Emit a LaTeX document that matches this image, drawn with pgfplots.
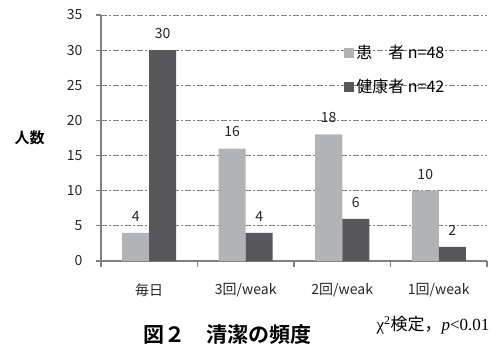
\documentclass[border=0pt]{standalone}
\usepackage{fontspec}
\usepackage{pgfplots}
\pgfplotsset{compat=1.18}
\setmainfont{Noto Sans CJK JP}[BoldFont={Noto Sans CJK JP Bold}]
\newfontfamily\serifnum{Liberation Serif}
\definecolor{lightbar}{RGB}{178,179,181}
\definecolor{darkbar}{RGB}{88,88,90}
\definecolor{axgray}{RGB}{128,128,128}
\begin{document}
\begin{tikzpicture}
\path[use as bounding box] (0pt,0pt) rectangle (493pt,349pt);
\begin{axis}[
  at={(101pt,88pt)}, anchor=south west,
  scale only axis, width=386pt, height=246pt,
  ymin=0, ymax=35, ytick={0,5,...,35},
  xmin=-0.5, xmax=3.5,
  xtick={0,1,2,3},
  xticklabels={毎日,3回/weak,2回/weak,1回/weak},
  minor xtick={-0.5,0.5,1.5,2.5,3.5},
  major x tick style={draw=none},
  minor tick length=6pt,
  major tick length=5pt,
  tick align=outside,
  axis x line*=bottom, axis y line*=left,
  axis line style={axgray, line width=1.5pt, -},
  every tick/.style={axgray, line width=1.2pt},
  ymajorgrids,
  major grid style={axgray, line width=0.8pt, dash pattern=on 6pt off 2pt on 2pt off 2pt},
  ybar=0pt, bar width=27pt,
  tick label style={font=\fontsize{14}{16}\selectfont, text=black!85},
  /pgf/number format/assume math mode=true,
  xticklabel style={yshift=-14pt},
  yticklabel style={xshift=-10pt},
  nodes near coords,
  every node near coord/.append style={font=\fontsize{14}{16}\selectfont, text=black!85, yshift=8pt},
  ylabel={\bfseries 人数},
  ylabel style={rotate=-90, at={(axis description cs:-0.185,0.5)}, anchor=center, font=\fontsize{15}{17}\selectfont},
  legend style={at={(axis description cs:0.63,0.885)}, anchor=north west, draw=none, fill=none,
    font=\fontsize{16}{18}\selectfont, row sep=15pt, inner sep=0pt},
  legend image code/.code={\fill[#1] (0pt,-5pt) rectangle (10pt,5pt);},
  legend cell align=left,
]
\addplot[fill=lightbar, draw=none] coordinates {(0,4) (1,16) (2,18) (3,10)};
\addplot[fill=darkbar, draw=none] coordinates {(0,30) (1,4) (2,6) (3,2)};
\legend{患\hspace{1em}者 n=48, 健康者 n=42}
\end{axis}
\node[font=\bfseries\fontsize{21}{23}\selectfont] at (227pt,14pt) {図２\hspace{1em}清潔の頻度};
\node[font=\fontsize{17}{19}\selectfont, anchor=east] at (493pt,24pt) {{\serifnum χ\textsuperscript{2}}検定，{\serifnum\itshape p}{\serifnum <0.01}};
\end{tikzpicture}
\end{document}
